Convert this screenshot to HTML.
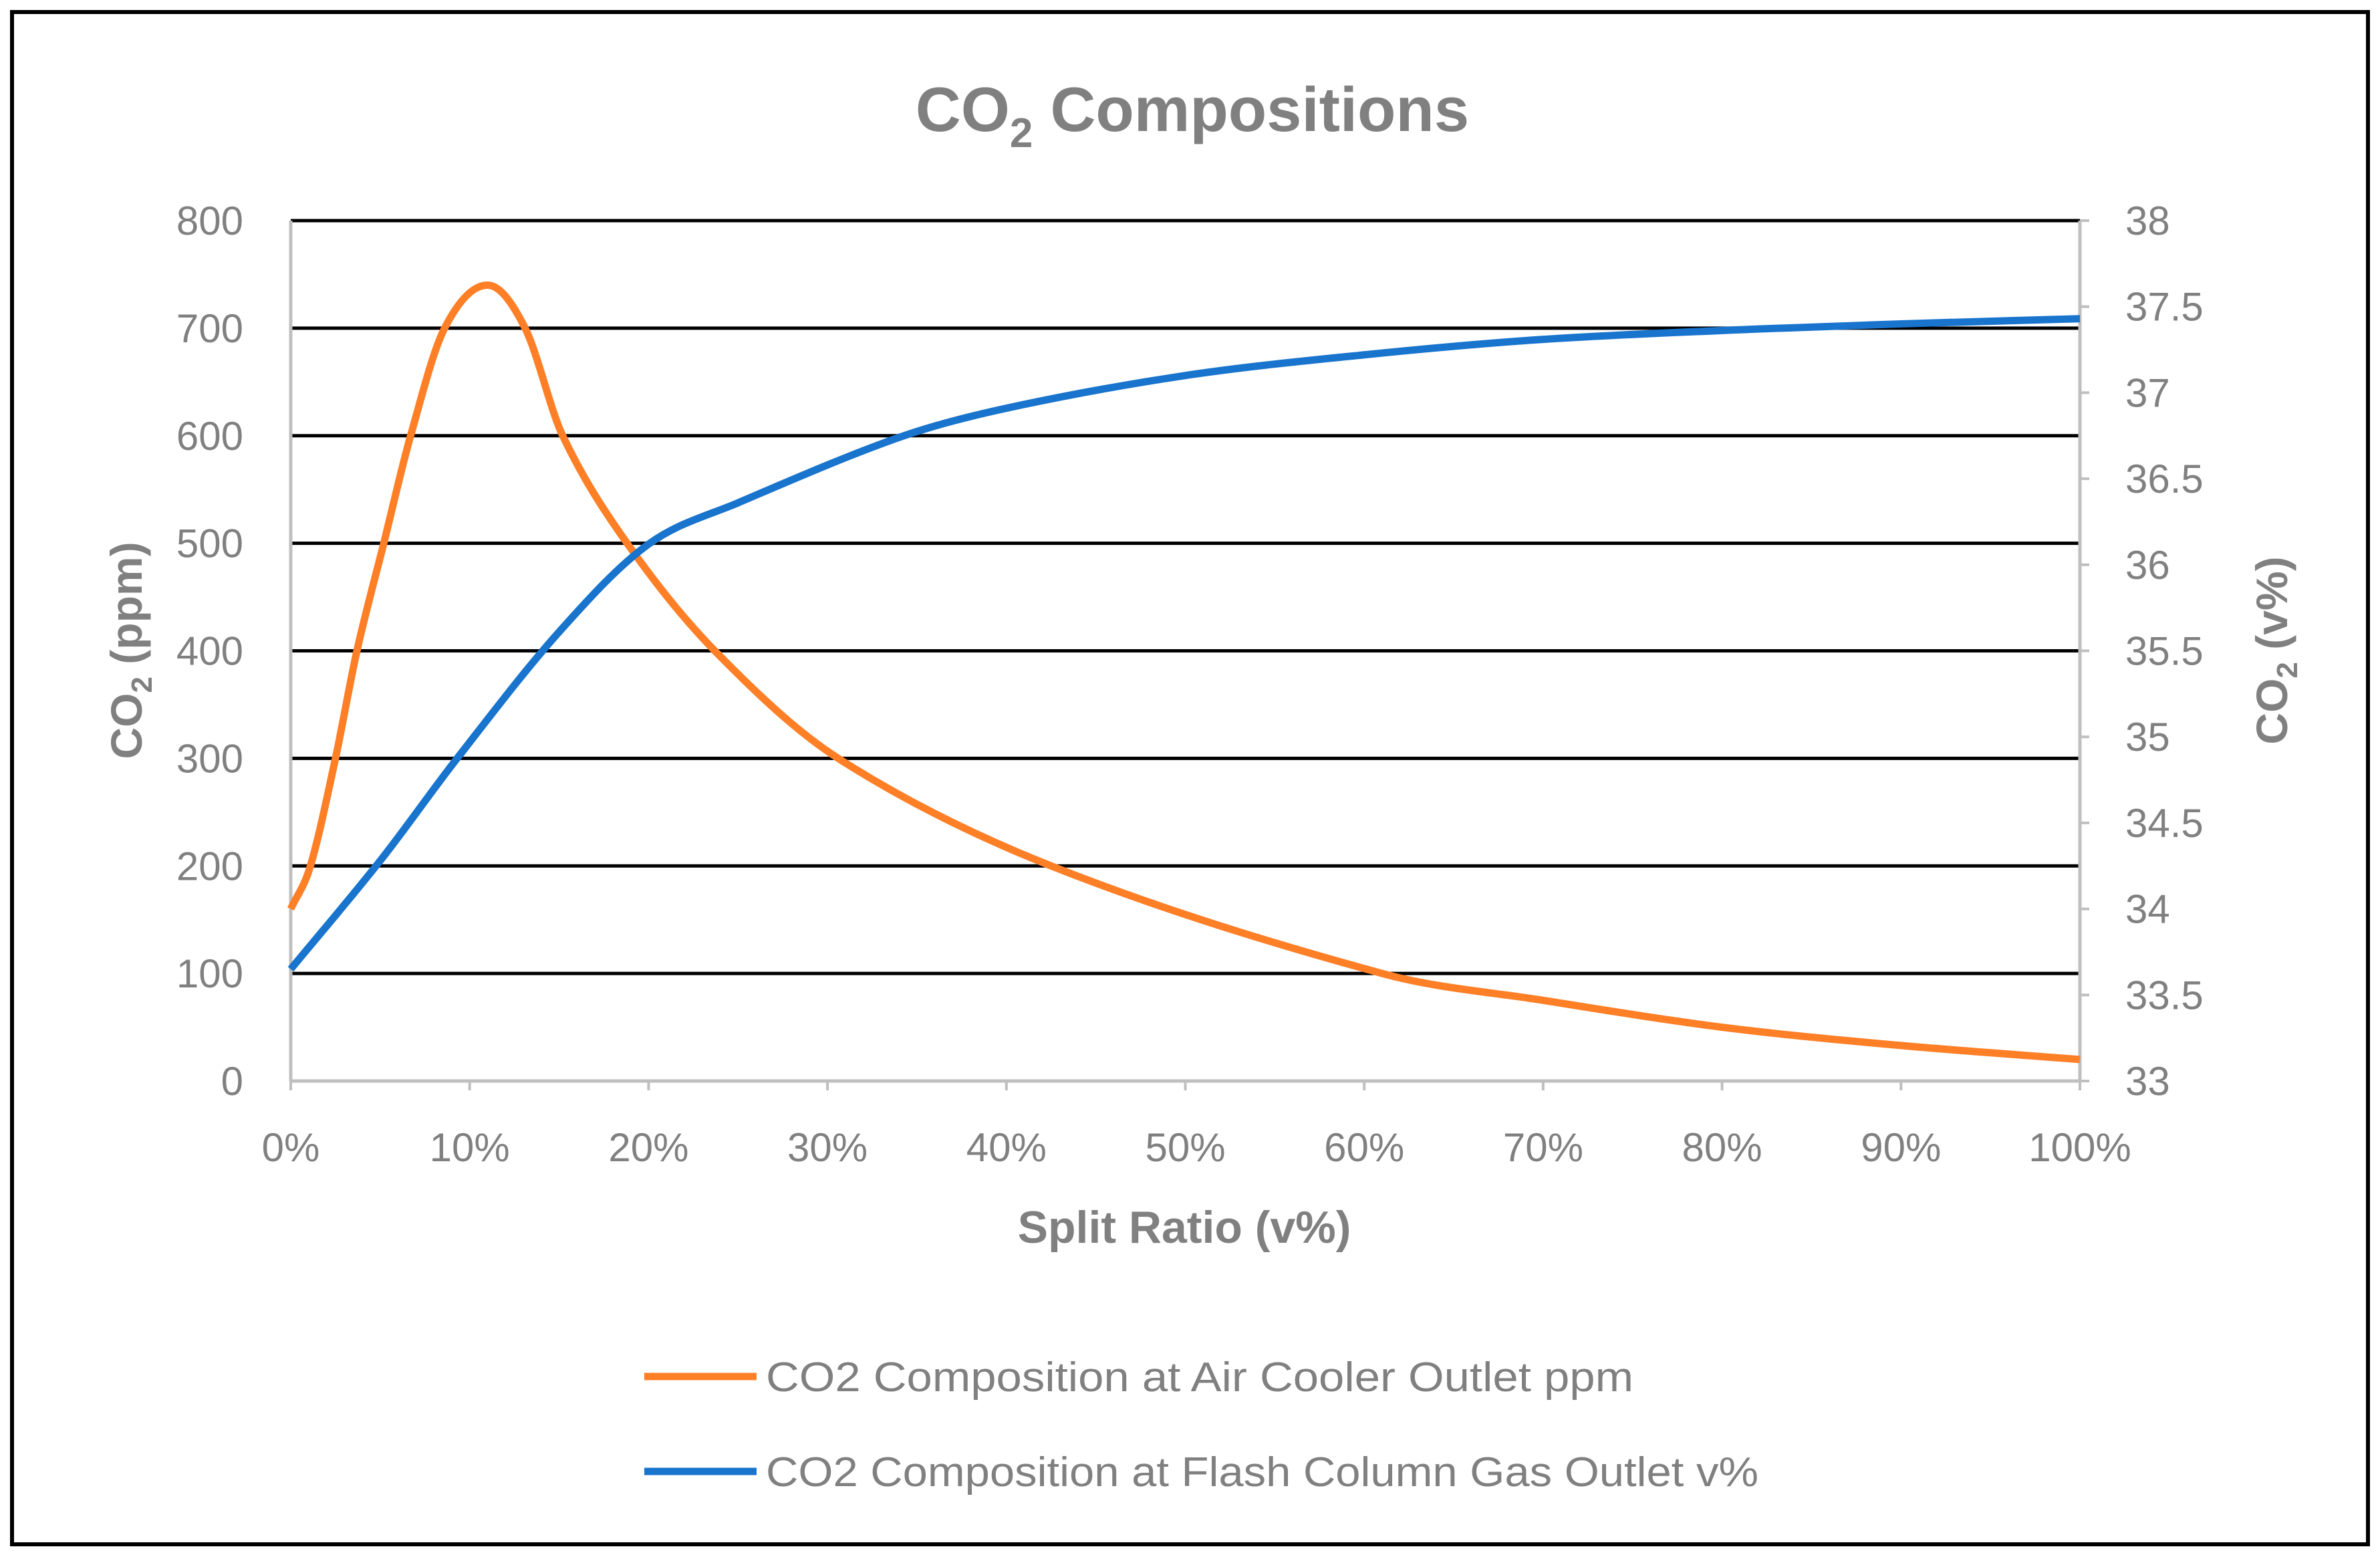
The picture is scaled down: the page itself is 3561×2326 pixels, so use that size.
<!DOCTYPE html>
<html><head><meta charset="utf-8"><style>
html,body{margin:0;padding:0;background:#fff;}
svg{display:block;font-family:"Liberation Sans",sans-serif;}
</style></head><body>
<svg id="chart" width="3561" height="2326" viewBox="0 0 3561 2326">
<rect x="18" y="18" width="3525" height="2292" fill="#fff" stroke="#000" stroke-width="6"/>
<text x="1784" y="196" text-anchor="middle" font-size="94" font-weight="bold" fill="#808080">CO<tspan font-size="62" dy="24">2</tspan><tspan dy="-24"> Compositions</tspan></text>
<g id="grid"></g><g id="axes"></g><g id="series"></g>
<text transform="translate(212,973) rotate(-90)" text-anchor="middle" font-size="66" font-weight="bold" fill="#808080">CO<tspan font-size="44" dy="15">2</tspan><tspan dy="-15"> (ppm)</tspan></text>
<text transform="translate(3422,973) rotate(-90)" text-anchor="middle" font-size="66" font-weight="bold" fill="#808080">CO<tspan font-size="44" dy="15">2</tspan><tspan dy="-15"> (v%)</tspan></text>
<text x="1772" y="1859" text-anchor="middle" font-size="68" font-weight="bold" fill="#808080">Split Ratio (v%)</text>
<g>
<line x1="964" y1="2059" x2="1132" y2="2059" stroke="#FF7F27" stroke-width="11"/>
<text x="1146" y="2081" font-size="62" fill="#808080" textLength="1298" lengthAdjust="spacingAndGlyphs">CO2 Composition at Air Cooler Outlet ppm</text>
<line x1="964" y1="2201" x2="1132" y2="2201" stroke="#1874CD" stroke-width="11"/>
<text x="1146" y="2223" font-size="62" fill="#808080" textLength="1485" lengthAdjust="spacingAndGlyphs">CO2 Composition at Flash Column Gas Outlet v%</text>
</g>
</svg>
<script>
const xPct = [0,1.1,2.5,3.7,5.2,6.7,8.6,11,13.1,15.2,18.8,23.7,30.6,42.5,61,70,80,90,100];
const ppm  = [160,200,300,400,500,600,700,740,700,600,500,400,300,200,100,75,50,33,20];
const xPctB = [0,5,9.3,15,20,25,34,40,50,60,70,82,90,100];
const vpct  = [33.65,34.28,34.875,35.61,36.12,36.36,36.74,36.91,37.1,37.22,37.31,37.37,37.40,37.43];
const leftTicks = [0,100,200,300,400,500,600,700,800];
const rightTicks = [33,33.5,34,34.5,35,35.5,36,36.5,37,37.5,38];
const xTicks = [0,10,20,30,40,50,60,70,80,90,100];
const X0=435,X1=3112,Y0=1617,Y1=330;
const sx=v=>X0+(X1-X0)*v/100;
const syL=v=>Y0-(Y0-Y1)*v/800;
const syR=v=>Y0-(Y0-Y1)*(v-33)/5;
const NS='http://www.w3.org/2000/svg';
function mk(tag,attrs,parent,txt){const e=document.createElementNS(NS,tag);for(const k in attrs)e.setAttribute(k,attrs[k]);if(txt!==undefined)e.textContent=txt;parent.appendChild(e);return e;}
const grid=document.getElementById('grid'),axes=document.getElementById('axes'),ser=document.getElementById('series');
mk('line',{x1:X0,y1:Y1,x2:X0,y2:Y0,stroke:'#bfbfbf','stroke-width':5},axes);
mk('line',{x1:X1,y1:Y1,x2:X1,y2:Y0,stroke:'#bfbfbf','stroke-width':5},axes);
leftTicks.forEach(v=>{
  if(v>0){const g=mk('line',{x1:X0,y1:syL(v),x2:X1,y2:syL(v),stroke:'#000','stroke-width':5},grid);
  
  }
  const t=mk('text',{x:364,y:syL(v)+21,'text-anchor':'end','font-size':60,fill:'#808080'},axes,String(v));
  
  
});
mk('line',{x1:X0,y1:Y0,x2:X1,y2:Y0,stroke:'#bfbfbf','stroke-width':5},axes);
rightTicks.forEach(v=>{
  mk('line',{x1:X1,y1:syR(v),x2:X1+14,y2:syR(v),stroke:'#bfbfbf','stroke-width':4},axes);
  const t=mk('text',{x:3180,y:syR(v)+21,'font-size':60,fill:'#808080'},axes,String(v));
  
  
});
xTicks.forEach(v=>{
  mk('line',{x1:sx(v),y1:Y0,x2:sx(v),y2:Y0+14,stroke:'#bfbfbf','stroke-width':4},axes);
  const t=mk('text',{x:sx(v),y:1737,'text-anchor':'middle','font-size':60,fill:'#808080'},axes,v+'%');
  
  
});
function smooth(xs,ys,fx,fy){
  const n=xs.length,m=[];
  for(let i=0;i<n;i++){
    if(i===0)m.push((ys[1]-ys[0])/(xs[1]-xs[0]));
    else if(i===n-1)m.push((ys[n-1]-ys[n-2])/(xs[n-1]-xs[n-2]));
    else m.push((ys[i+1]-ys[i-1])/(xs[i+1]-xs[i-1]));
  }
  let d='M'+fx(xs[0])+','+fy(ys[0]);
  for(let i=0;i<n-1;i++){const h=(xs[i+1]-xs[i])/3;
    d+=' C'+fx(xs[i]+h)+','+fy(ys[i]+m[i]*h)+' '+fx(xs[i+1]-h)+','+fy(ys[i+1]-m[i+1]*h)+' '+fx(xs[i+1])+','+fy(ys[i+1]);}
  return d;}
const po=mk('path',{d:smooth(xPct,ppm,sx,syL),fill:'none',stroke:'#FF7F27','stroke-width':11,'stroke-linejoin':'round'},ser);


const pb=mk('path',{d:smooth(xPctB,vpct,sx,syR),fill:'none',stroke:'#1874CD','stroke-width':11,'stroke-linejoin':'round'},ser);


</script>
</body></html>
